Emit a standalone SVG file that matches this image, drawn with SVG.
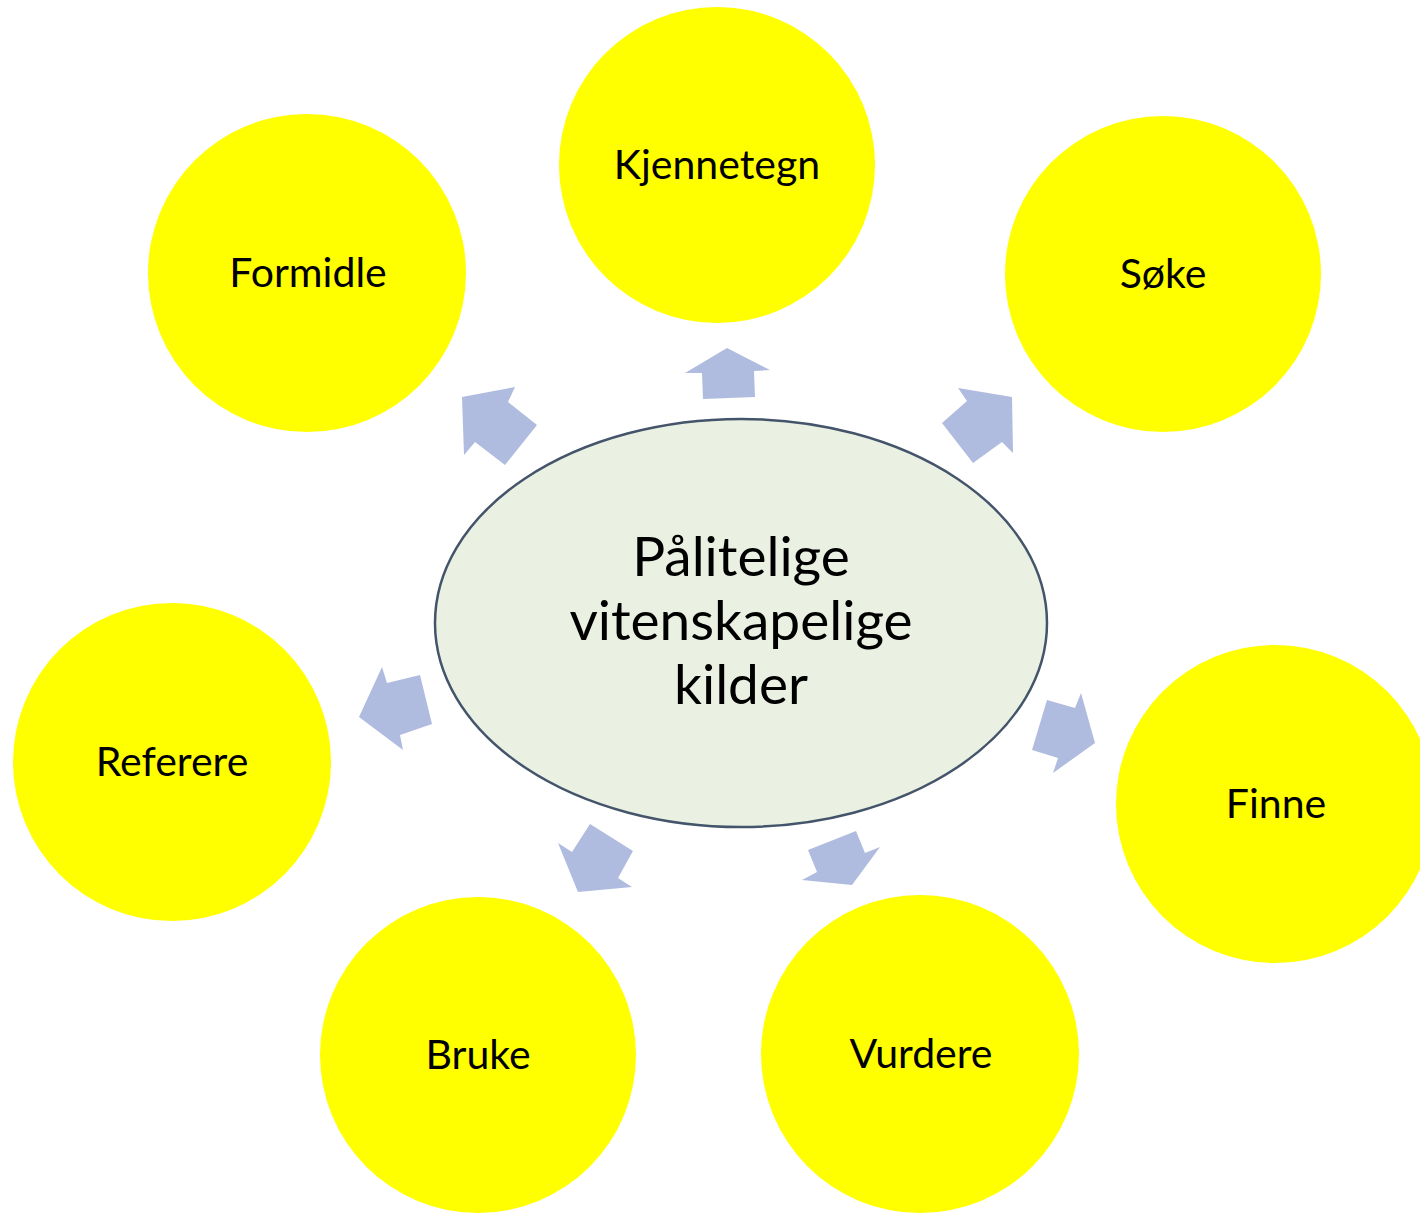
<svg xmlns="http://www.w3.org/2000/svg" width="1420" height="1213" viewBox="0 0 1420 1213">
<style>
.node circle{fill:#FFFF00;stroke:none}
.lbl{font-family:Lato,"Open Sans","Liberation Sans",sans-serif;font-size:41px;fill:#000;text-anchor:middle}
.center{font-family:Lato,"Open Sans","Liberation Sans",sans-serif;font-size:55px;fill:#000;text-anchor:middle}
.arr{fill:#B0BCDF;stroke:none}
</style>
<rect width="1420" height="1213" fill="#FFFFFF"/>
<g id="center">
<ellipse cx="741" cy="623" rx="306" ry="204" fill="#EAF1E3" stroke="#44546A" stroke-width="2.5"/>
<text class="center" x="741" y="576">Pålitelige</text>
<text class="center" x="741" y="640">vitenskapelige</text>
<text class="center" x="741" y="704">kilder</text>
</g>
<g id="kjennetegn" class="node"><circle cx="717" cy="165" r="158"/><text class="lbl" x="717" y="179">Kjennetegn</text></g>
<g id="formidle" class="node"><circle cx="307" cy="273" r="159"/><text class="lbl" x="308" y="287">Formidle</text></g>
<g id="soke" class="node"><circle cx="1163" cy="274" r="158"/><text class="lbl" x="1163" y="288">Søke</text></g>
<g id="referere" class="node"><circle cx="172" cy="762" r="159"/><text class="lbl" x="172" y="776">Referere</text></g>
<g id="finne" class="node"><circle cx="1275" cy="804" r="159"/><text class="lbl" x="1276" y="818">Finne</text></g>
<g id="bruke" class="node"><circle cx="478" cy="1055" r="158"/><text class="lbl" x="478" y="1069">Bruke</text></g>
<g id="vurdere" class="node"><circle cx="920" cy="1054" r="159"/><text class="lbl" x="921" y="1068">Vurdere</text></g>
<g id="connectors">
<polygon class="arr" points="727,348 770,370 754,371 755,397 703,399 702,373 685,373"/>
<polygon class="arr" points="462,397 515,387 508,402 537,425 505,465 475,442 464,455"/>
<polygon class="arr" points="1012,397 1013,453 1002,442 973,463 942,423 967,401 958,388"/>
<polygon class="arr" points="359,717 382,667 387,683 420,675 432,724 400,735 403,750"/>
<polygon class="arr" points="1095,743 1053,773 1058,758 1032,750 1047,700 1075,708 1081,693"/>
<polygon class="arr" points="578,892 558,843 572,852 590,824 633,851 618,878 632,887"/>
<polygon class="arr" points="852,885 802,880 817,872 808,850 856,831 865,853 880,847"/>
</g>
</svg>
